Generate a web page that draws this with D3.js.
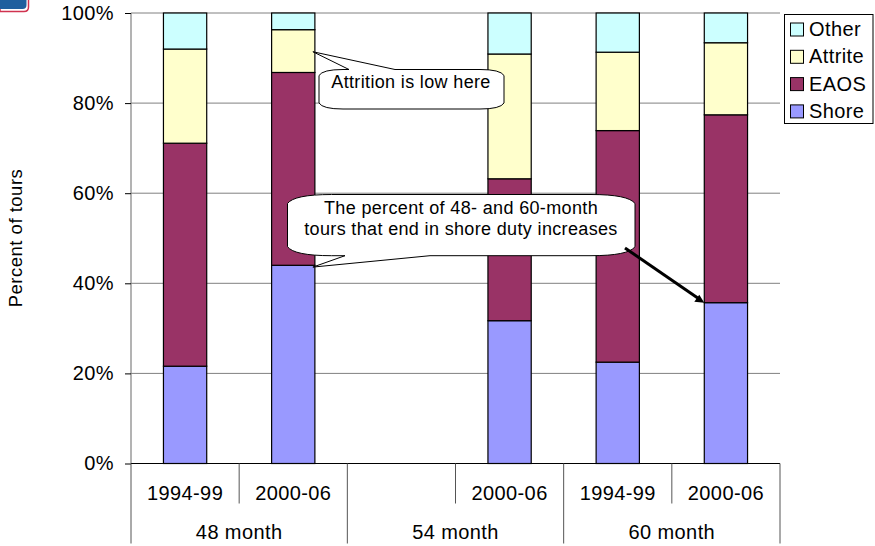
<!DOCTYPE html>
<html>
<head>
<meta charset="utf-8">
<script src="https://cdn.jsdelivr.net/npm/d3@7"></script>
<style>
  html, body { margin: 0; padding: 0; background: #fff; }
  svg { display: block; }
  text { font-family: "Liberation Sans", Arial, sans-serif; fill: #000; }
</style>
</head>
<body>
<svg id="chart" width="875" height="546"></svg>
<script>
const groups = ["48 month", "54 month", "60 month"];
const periods = ["1994-99", "2000-06", "", "2000-06", "1994-99", "2000-06"];
const seriesNames = ["Shore", "EAOS", "Attrite", "Other"];
const seriesColors = ["#9999ff", "#993366", "#ffffcc", "#ccffff"];
const shore = [21.6, 44.0, 0, 31.7, 22.5, 35.7];
const eaos = [49.5, 42.8, 0, 31.5, 51.4, 41.7];
const attrite = [20.9, 9.5, 0, 27.7, 17.4, 16.0];
const other = [8.0, 3.7, 0, 9.1, 8.7, 6.6];
const yTicks = [0, 20, 40, 60, 80, 100];

const svg = d3.select("#chart");
const margin = { top: 13, right: 95, bottom: 82.5, left: 131 };
const plotWidth = 875 - margin.left - margin.right;
const plotHeight = 546 - margin.top - margin.bottom;
const g = svg.append("g").attr("transform", `translate(${margin.left},${margin.top})`);

const labelSize = 20;
const labelSpacing = 0.4;
const noteSize = 18;
const noteSpacing = 0.35;

const slots = periods.map((d, i) => i);
const x = d3.scaleBand().domain(slots).range([0, plotWidth]).paddingInner(0.6).paddingOuter(0.3);
const slot = d3.scaleBand().domain(slots).range([0, plotWidth]);
const y = d3.scaleLinear().domain([0, 100]).range([plotHeight, 0]);

// logo fragment, top left corner
svg.append("path")
  .attr("d", "M0,-2H28.5V7Q28.5,11.5 24,11.5H0Z")
  .attr("fill", "#fff")
  .attr("stroke", "#d0334f")
  .attr("stroke-width", 1.5);
svg.append("path")
  .attr("d", "M0,0H26.5V5Q26.5,9 22.5,9H0Z")
  .attr("fill", "#1f5f9e");

// gridlines
g.append("g")
  .selectAll("line")
  .data(yTicks.filter(d => d > 0))
  .enter().append("line")
  .attr("x1", 0)
  .attr("x2", plotWidth)
  .attr("y1", d => y(d))
  .attr("y2", d => y(d))
  .attr("stroke", "#808080")
  .attr("stroke-width", 1);

// stacked bars
const rows = slots.map(i => ({ i, Shore: shore[i], EAOS: eaos[i], Attrite: attrite[i], Other: other[i] }));
const stacked = d3.stack().keys(seriesNames)(rows);

g.selectAll("g.series")
  .data(stacked)
  .enter().append("g")
  .attr("class", "series")
  .attr("fill", (d, i) => seriesColors[i])
  .selectAll("rect")
  .data(d => d.filter(p => p[1] > p[0]))
  .enter().append("rect")
  .attr("x", d => x(d.data.i))
  .attr("y", d => y(d[1]))
  .attr("width", x.bandwidth())
  .attr("height", d => y(d[0]) - y(d[1]))
  .attr("stroke", "#000")
  .attr("stroke-width", 1.2);

// y axis
const yAxis = g.append("g")
  .call(d3.axisLeft(y).tickValues(yTicks).tickSize(6).tickPadding(11).tickFormat(d => d + "%"));
yAxis.select(".domain").attr("stroke", "#808080").attr("stroke-width", 1.2).attr("d", `M0,0V${plotHeight}`);
yAxis.selectAll(".tick line").attr("stroke", "#000");
yAxis.selectAll("text")
  .attr("font-size", labelSize)
  .attr("letter-spacing", labelSpacing)
  .attr("fill", "#000")
  .style("font-family", '"Liberation Sans", Arial, sans-serif');

svg.append("text")
  .attr("transform", "rotate(-90)")
  .attr("x", -238)
  .attr("y", 21.5)
  .attr("text-anchor", "middle")
  .attr("font-size", 18.5)
  .attr("letter-spacing", 0.5)
  .text("Percent of tours");

// category axis, two levels
const cat = g.append("g").attr("transform", `translate(0,${plotHeight})`);
cat.append("line").attr("x1", 0).attr("x2", plotWidth).attr("stroke", "#000").attr("stroke-width", 1.2);

const groupEdges = [0, 2, 4, 6];
cat.selectAll("line.major")
  .data(groupEdges)
  .enter().append("line")
  .attr("class", "major")
  .attr("x1", d => d === 6 ? plotWidth : slot(d))
  .attr("x2", d => d === 6 ? plotWidth : slot(d))
  .attr("y1", 0)
  .attr("y2", 80)
  .attr("stroke", "#555");

cat.selectAll("line.minor")
  .data([1, 3, 5])
  .enter().append("line")
  .attr("class", "minor")
  .attr("x1", d => slot(d))
  .attr("x2", d => slot(d))
  .attr("y1", 0)
  .attr("y2", 40)
  .attr("stroke", "#555");

cat.selectAll("text.period")
  .data(periods)
  .enter().append("text")
  .attr("class", "period")
  .attr("x", (d, i) => slot(i) + slot.bandwidth() / 2)
  .attr("y", 36)
  .attr("text-anchor", "middle")
  .attr("font-size", labelSize)
  .attr("letter-spacing", labelSpacing)
  .text(d => d);

cat.selectAll("text.group")
  .data(groups)
  .enter().append("text")
  .attr("class", "group")
  .attr("x", (d, i) => slot(i * 2) + slot.bandwidth())
  .attr("y", 75)
  .attr("text-anchor", "middle")
  .attr("font-size", labelSize)
  .attr("letter-spacing", labelSpacing)
  .text(d => d);

// legend
const legend = svg.append("g").attr("transform", "translate(784.5,14.5)");
legend.append("rect")
  .attr("width", 88.5)
  .attr("height", 109)
  .attr("fill", "#fff")
  .attr("stroke", "#000");

const legendOrder = [3, 2, 1, 0];
legendOrder.forEach((s, i) => {
  legend.append("rect")
    .attr("x", 6)
    .attr("y", 8.5 + i * 27.3)
    .attr("width", 13)
    .attr("height", 13)
    .attr("fill", seriesColors[s])
    .attr("stroke", "#000");
  legend.append("text")
    .attr("x", 24.5)
    .attr("y", 21.5 + i * 27.3)
    .attr("font-size", labelSize)
    .attr("letter-spacing", labelSpacing)
    .text(seriesNames[s]);
});

// callouts, tips follow the bars
const barRight = i => margin.left + x(i) + x.bandwidth();
const yAt = v => margin.top + y(v);

function callout(l, t, r, b, rx, ry, tip, base1, base2, side) {
  const notch = `L${side === "top" ? base1 : base2},${side === "top" ? t : b}L${tip[0]},${tip[1]}L${side === "top" ? base2 : base1},${side === "top" ? t : b}`;
  const d = `M${l},${t + ry}Q${l + rx * 0.15},${t} ${l + rx},${t}`
    + (side === "top" ? notch : "")
    + `L${r - rx},${t}Q${r - rx * 0.15},${t} ${r},${t + ry}`
    + `L${r},${b - ry}Q${r - rx * 0.15},${b} ${r - rx},${b}`
    + (side === "bottom" ? notch : "")
    + `L${l + rx},${b}Q${l + rx * 0.15},${b} ${l},${b - ry}Z`;
  svg.append("path").attr("d", d).attr("fill", "#fff").attr("stroke", "#000").attr("stroke-width", 1);
}

callout(319, 69.5, 504, 109, 24, 6, [barRight(1) - 2, yAt(91.4)], 349, 395, "top");
callout(287.5, 194.5, 635, 255.7, 44, 9, [barRight(1) - 2, yAt(43.6)], 345, 430, "bottom");

const notes = [
  { text: "Attrition is low here", cx: 411, base: 88 },
  { text: "The percent of 48- and 60-month", cx: 461, base: 214 },
  { text: "tours that end in shore duty increases", cx: 461, base: 235 }
];
svg.selectAll("text.note")
  .data(notes)
  .enter().append("text")
  .attr("class", "note")
  .attr("x", d => d.cx)
  .attr("y", d => d.base)
  .attr("text-anchor", "middle")
  .attr("font-size", noteSize)
  .attr("letter-spacing", noteSpacing)
  .text(d => d.text);

// arrow from the big callout to the last bar
svg.append("line")
  .attr("x1", 625)
  .attr("y1", 248)
  .attr("x2", margin.left + x(5) - 4)
  .attr("y2", yAt(shore[5]) - 3)
  .attr("stroke", "#000")
  .attr("stroke-width", 3);
svg.append("path")
  .attr("d", `M${margin.left + x(5)},${yAt(shore[5])}l-10,-1l5,-7Z`)
  .attr("fill", "#000");
</script>
</body>
</html>
